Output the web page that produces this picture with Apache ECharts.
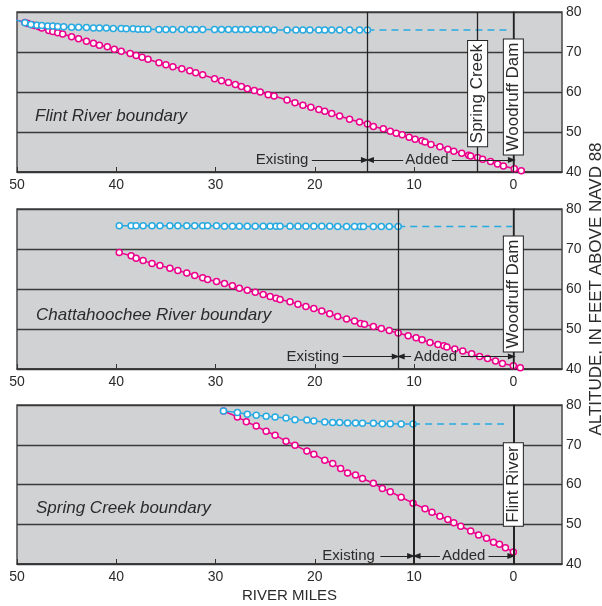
<!DOCTYPE html>
<html>
<head>
<meta charset="utf-8">
<script src="https://cdn.jsdelivr.net/npm/echarts@6/dist/echarts.min.js"></script>
<style>
    html, body { margin: 0; padding: 0; background: #fff; }
    #chart { width: 602px; height: 606px; }
</style>
</head>
<body>
<div id="chart"></div>
<script>
// river miles / altitude (ft above NAVD 88)
// pink = channel bottom, blue = water surface

// ---- Flint River boundary ----
const flintBedMiles = [50.1, 49.2, 48.9, 48.5, 48.2, 47.8, 47.5, 46.8, 46.4, 45.9, 45.4, 44.5, 43.8, 43.0, 42.3, 41.7, 40.9, 40.2, 39.5, 38.6, 38.0, 37.4, 36.8, 35.7, 35.0, 34.3, 33.4, 32.6, 32.0, 31.3, 30.1, 29.4, 28.7, 28.0, 27.4, 26.8, 26.1, 25.5, 24.7, 24.1, 22.8, 22.0, 21.2, 20.4, 19.6, 19.0, 18.3, 17.5, 16.5, 15.5, 14.7, 14.1, 13.1, 12.4, 11.8, 11.2, 10.5, 9.9, 9.2, 8.9, 8.3, 7.4, 6.6, 6.0, 5.2, 4.5, 4.3, 3.6, 3.1, 2.3, 1.6, 1.0, -0.1, -0.8];
const flintBedAlt = [78.0, 77.4, 77.1, 76.8, 76.6, 76.3, 76.0, 75.4, 75.1, 74.8, 74.5, 73.8, 73.3, 72.7, 72.2, 71.7, 71.3, 70.7, 70.2, 69.6, 69.1, 68.7, 68.2, 67.3, 66.8, 66.3, 65.8, 65.3, 64.8, 64.3, 63.3, 62.8, 62.4, 61.9, 61.4, 60.8, 60.4, 60.0, 59.3, 59.0, 58.0, 57.3, 56.7, 56.2, 55.6, 55.2, 54.6, 54.0, 53.2, 52.5, 52.0, 51.4, 50.8, 50.2, 49.7, 49.3, 48.7, 48.2, 47.8, 47.5, 46.9, 46.3, 45.7, 45.2, 44.7, 44.2, 44.0, 43.6, 43.2, 42.6, 42.0, 41.5, 40.8, 40.3];
const flintWaterMiles = [50.1, 49.2, 48.6, 48.0, 47.5, 46.9, 46.4, 45.9, 45.3, 44.5, 43.8, 43.0, 42.3, 41.7, 41.0, 40.3, 39.5, 39.0, 38.3, 37.8, 37.3, 36.8, 35.7, 35.0, 34.3, 33.4, 32.6, 32.0, 31.3, 30.1, 29.4, 28.7, 28.0, 27.4, 26.8, 26.1, 25.5, 24.8, 24.1, 22.8, 21.9, 21.2, 20.5, 19.6, 19.0, 18.3, 17.5, 16.5, 15.5, 14.7];
const flintWaterAlt = [78.0, 77.3, 76.9, 76.7, 76.6, 76.5, 76.5, 76.4, 76.3, 76.2, 76.2, 76.1, 76.0, 76.0, 76.0, 75.9, 75.9, 75.8, 75.8, 75.7, 75.7, 75.7, 75.6, 75.6, 75.6, 75.6, 75.6, 75.6, 75.6, 75.6, 75.6, 75.6, 75.6, 75.6, 75.6, 75.6, 75.6, 75.6, 75.5, 75.5, 75.5, 75.5, 75.5, 75.5, 75.5, 75.5, 75.5, 75.5, 75.5, 75.5];

// ---- Chattahoochee River boundary ----
const chattBedMiles = [39.7, 38.5, 38.0, 37.3, 36.4, 35.6, 34.6, 33.8, 32.9, 32.1, 31.3, 30.8, 29.9, 29.1, 28.3, 27.6, 26.8, 26.0, 25.2, 24.5, 23.9, 23.5, 22.5, 21.7, 20.9, 20.1, 19.3, 18.5, 17.7, 16.8, 16.0, 15.4, 15.0, 14.1, 13.3, 12.5, 11.6, 10.6, 9.8, 9.2, 8.4, 7.6, 7.0, 6.7, 5.9, 5.1, 4.2, 3.4, 2.6, 1.8, 1.1, 0.0, -0.7];
const chattBedAlt = [69.1, 68.3, 67.7, 67.1, 66.4, 65.9, 65.2, 64.6, 64.0, 63.4, 62.8, 62.4, 61.9, 61.4, 60.8, 60.2, 59.7, 59.2, 58.6, 58.1, 57.7, 57.4, 56.8, 56.2, 55.6, 55.1, 54.5, 53.8, 53.1, 52.5, 52.0, 51.4, 51.2, 50.6, 50.1, 49.6, 49.0, 48.3, 47.8, 47.3, 46.6, 46.1, 45.8, 45.5, 45.0, 44.5, 43.8, 43.1, 42.6, 42.0, 41.4, 40.8, 40.3];
const chattWaterMiles = [39.7, 38.5, 38.0, 37.3, 36.4, 35.6, 34.6, 33.8, 32.9, 32.1, 31.3, 30.8, 29.9, 29.1, 28.3, 27.6, 26.8, 26.0, 25.2, 24.5, 23.9, 23.5, 22.5, 21.7, 20.9, 20.1, 19.3, 18.5, 17.7, 16.8, 16.0, 15.4, 15.1, 14.1, 13.3, 12.5, 11.6];
const chattWaterAlt = [75.8, 75.8, 75.8, 75.8, 75.8, 75.8, 75.8, 75.8, 75.8, 75.8, 75.8, 75.8, 75.8, 75.7, 75.7, 75.7, 75.7, 75.7, 75.7, 75.7, 75.7, 75.7, 75.7, 75.7, 75.7, 75.7, 75.7, 75.7, 75.6, 75.6, 75.6, 75.6, 75.6, 75.6, 75.6, 75.6, 75.6];

// ---- Spring Creek boundary ----
const springBedMiles = [29.2, 27.8, 26.9, 25.9, 24.9, 24.0, 22.9, 22.0, 20.8, 20.1, 19.0, 18.2, 17.4, 16.7, 15.9, 15.2, 14.1, 13.2, 12.4, 11.3, 10.1, 8.9, 8.2, 7.4, 6.6, 6.0, 5.3, 4.3, 3.5, 2.7, 2.0, 1.4, 0.8, 0.0];
const springBedAlt = [78.5, 77.0, 75.8, 74.7, 73.4, 72.4, 70.9, 69.9, 68.4, 67.6, 66.1, 65.3, 64.0, 62.9, 62.4, 61.5, 60.3, 59.0, 58.2, 56.8, 55.3, 53.9, 53.0, 52.0, 51.2, 50.4, 49.5, 48.3, 47.3, 46.5, 45.5, 45.0, 44.1, 43.0];
const springWaterMiles = [29.2, 27.8, 26.8, 25.9, 24.9, 24.0, 22.9, 22.0, 20.8, 20.1, 19.0, 18.2, 17.5, 16.7, 15.9, 15.2, 14.1, 13.2, 12.4, 11.3, 10.1];
const springWaterAlt = [78.5, 78.1, 77.7, 77.4, 77.2, 77.0, 76.7, 76.3, 76.2, 76.0, 75.7, 75.6, 75.6, 75.5, 75.5, 75.4, 75.4, 75.3, 75.3, 75.2, 75.2];

// annotations per panel
const panelTitles = ['Flint River boundary', 'Chattahoochee River boundary', 'Spring Creek boundary'];
const boundaryMile = [14.7, 11.6, 10.0];   // existing / added split
const dashEnd = [0.3, 0.1, 0.5];
const siteLabels = [
    [['Spring Creek', 3.6, 59.6], ['Woodruff Dam', 0, 58.75]],
    [['Woodruff Dam', 0, 58.75]],
    [['Flint River', 0, 60]]
];
// [label y, existing text x, existing arrow, added back-arrow, added text x, added arrow]
const reachNotes = [
    [43.0, 23.3, [20.3, 14.95], [11.1, 14.45], 8.7, [6.2, 0.15]],
    [43.1, 20.2, [17.2, 11.85], [10.3, 11.35], 7.85, [5.3, 0.15]],
    [42.0, 16.6, [13.4, 10.3], [7.4, 9.75], 5.0, [2.5, 0.2]]
];
const xTicks = [50, 40, 30, 20, 10, 0];

const PINK = '#ec008c';
const BLUE = '#27aae1';
const INK = '#2b2b2b';
const FONT = 'Liberation Sans, Arial, sans-serif';

const gridTops = [12, 209, 405];
const gridHeights = [160, 160, 159];

const pairs = (xs, ys) => xs.map((x, i) => [x, ys[i]]);

const panels = [
    { bed: pairs(flintBedMiles, flintBedAlt), water: pairs(flintWaterMiles, flintWaterAlt) },
    { bed: pairs(chattBedMiles, chattBedAlt), water: pairs(chattWaterMiles, chattWaterAlt) },
    { bed: pairs(springBedMiles, springBedAlt), water: pairs(springWaterMiles, springWaterAlt) }
];

let chart = echarts.init(document.getElementById('chart'));

let option = {
    animation: false,
    title: [],
    grid: [],
    xAxis: [],
    yAxis: [],
    series: []
};

const titleTops = [106, 305, 498];
const titleLefts = [35, 36, 36];

panels.forEach((p, k) => {
    option.title.push({
        text: panelTitles[k],
        left: titleLefts[k],
        top: titleTops[k],
        padding: 0,
        textStyle: { fontFamily: FONT, fontSize: 17, fontStyle: 'italic', fontWeight: 'normal', color: INK, lineHeight: 20 }
    });
    option.grid.push({
        left: 17, right: 40, top: gridTops[k], height: gridHeights[k],
        outerBoundsMode: 'none', containLabel: false,
        show: true, backgroundColor: '#d1d2d4', borderColor: '#4a4a4a', borderWidth: 1.5
    });
    option.xAxis.push({
        type: 'value', gridIndex: k, min: -4.9, max: 50, inverse: true,
        name: k === 2 ? 'RIVER MILES' : '',
        nameLocation: 'middle', nameGap: 24, nameMoveOverlap: false,
        nameTextStyle: { fontFamily: FONT, fontSize: 15, color: INK },
        axisLine: { show: true, lineStyle: { color: '#333', width: 1.5 } },
        axisTick: { show: true, inside: true, length: 5, customValues: xTicks, lineStyle: { color: '#333' } },
        axisLabel: { customValues: xTicks, margin: 6, fontFamily: FONT, fontSize: 14, color: INK },
        splitLine: { show: false }
    });
    option.yAxis.push({
        type: 'value', gridIndex: k, position: 'right', min: 40, max: 80, interval: 10,
        name: k === 1 ? 'ALTITUDE, IN FEET ABOVE NAVD 88' : '',
        nameLocation: 'middle', nameRotate: 90, nameGap: 26, nameMoveOverlap: false,
        nameTextStyle: { fontFamily: FONT, fontSize: 17, color: INK },
        axisLine: { show: true, lineStyle: { color: '#333', width: 1.5 } },
        axisTick: { show: true, length: 3, lineStyle: { color: '#333' } },
        axisLabel: { margin: 4, fontFamily: FONT, fontSize: 14, color: INK },
        splitLine: { show: true, lineStyle: { color: '#3a3a3a', width: 1.3 } }
    });

    const note = reachNotes[k];
    const lineW = k === 2 ? 2 : 1.3;
    const markLines = [
        { xAxis: boundaryMile[k], lineStyle: { color: '#222', width: lineW } }
    ];
    siteLabels[k].forEach(s => {
        markLines.push({ xAxis: s[1], lineStyle: { color: '#222', width: lineW } });
    });
    [note[2], note[3], note[5]].forEach(seg => {
        markLines.push([
            { coord: [seg[0], note[0]], symbol: 'none' },
            { coord: [seg[1], note[0]], symbol: 'triangle', symbolSize: [6, 8] }
        ]);
    });

    const markPoints = [
        { name: 'Existing', coord: [note[1], note[0]] },
        { name: 'Added', coord: [note[4], note[0]] }
    ].map(m => Object.assign(m, {
        symbolSize: 0,
        label: { show: true, formatter: '{b}', fontFamily: FONT, fontSize: 15, color: INK }
    }));
    siteLabels[k].forEach(s => {
        markPoints.push({
            name: s[0], coord: [s[1], s[2]], symbolSize: 0,
            label: {
                show: true, formatter: '{b}', rotate: 90,
                fontFamily: FONT, fontSize: 17, lineHeight: 17, color: INK,
                backgroundColor: '#fff', borderColor: '#222', borderWidth: 1,
                padding: [1, 3, 1, 3]
            }
        });
    });

    const lastWater = p.water[p.water.length - 1];
    option.series.push({
        name: 'water-ext', type: 'line', xAxisIndex: k, yAxisIndex: k,
        data: [lastWater, [dashEnd[k], lastWater[1]]],
        symbol: 'none', silent: true,
        lineStyle: { color: BLUE, width: 1.5, type: [7, 5] },
        markLine: {
            silent: true, z: 4, symbol: ['none', 'none'],
            label: { show: false },
            lineStyle: { color: '#222', width: 1, type: 'solid' },
            itemStyle: { color: '#222' },
            data: markLines
        },
        markPoint: { silent: true, z: 6, data: markPoints }
    });
    option.series.push({
        name: 'bed', type: 'line', xAxisIndex: k, yAxisIndex: k, data: p.bed,
        symbol: 'circle', symbolSize: 6, silent: true, z: 3,
        lineStyle: { color: PINK, width: 1.5 },
        itemStyle: { color: '#fff', borderColor: PINK, borderWidth: 1.5 }
    });
    option.series.push({
        name: 'water', type: 'line', xAxisIndex: k, yAxisIndex: k, data: p.water,
        symbol: 'circle', symbolSize: 6, silent: true, z: 3,
        lineStyle: { color: BLUE, width: 1.5 },
        itemStyle: { color: '#fff', borderColor: BLUE, borderWidth: 1.5 }
    });
});

chart.setOption(option);
</script>
</body>
</html>
